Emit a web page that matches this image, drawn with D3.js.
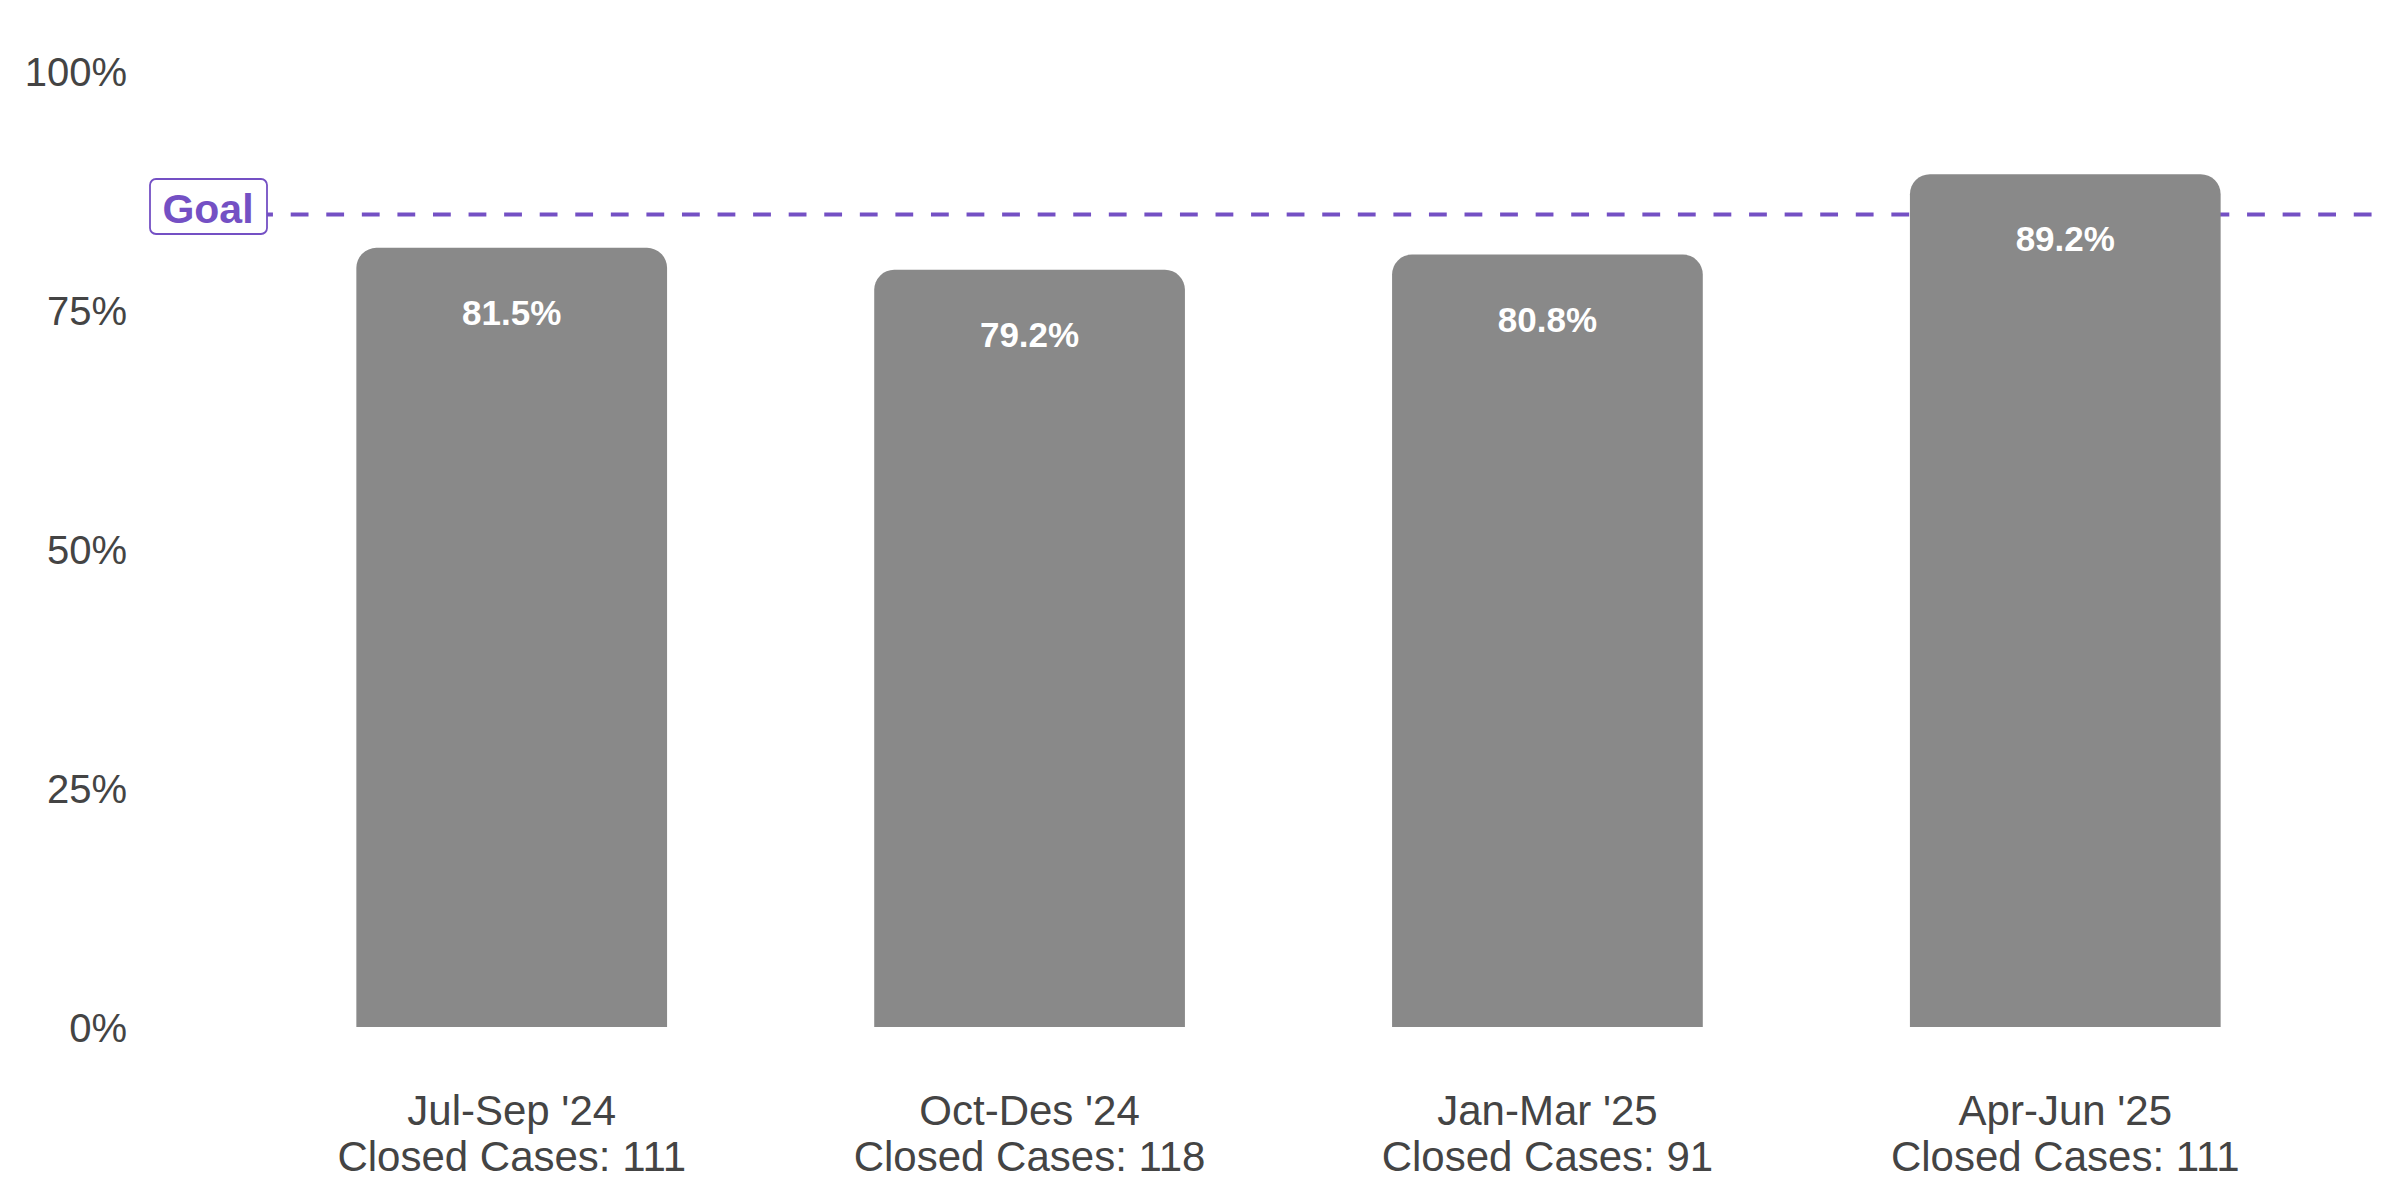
<!DOCTYPE html>
<html>
<head>
<meta charset="utf-8">
<script src="https://cdn.jsdelivr.net/npm/d3@7"></script>
<style>
  html, body { margin: 0; padding: 0; background: #ffffff; }
  svg { display: block; }
  text { font-family: "Liberation Sans", Arial, Helvetica, sans-serif; }
</style>
</head>
<body>
<svg id="chart" width="2400" height="1200"></svg>
<script>
// ---- data ----
const quarters = ["Jul-Sep '24", "Oct-Des '24", "Jan-Mar '25", "Apr-Jun '25"];
const closedCases = [111, 118, 91, 111];
const rates = [0.815, 0.792, 0.808, 0.892];
const rateLabels = ["81.5%", "79.2%", "80.8%", "89.2%"];
const goal = 0.85;
const goalLabel = "Goal";
const yTicks = [0, 0.25, 0.5, 0.75, 1];
const yTickLabels = ["0%", "25%", "50%", "75%", "100%"];

// ---- layout ----
const panel = { left: 201, right: 2376, top: 71, bottom: 1027 };
const barColor = "#898989";
const purple = "#7450c4";
const textColor = "#444444";

const svg = d3.select("#chart");

const x = d3.scaleBand()
  .domain(quarters)
  .range([panel.left, panel.right])
  .paddingInner(0.4)
  .paddingOuter(0.3);

const y = d3.scaleLinear().domain([0, 1]).range([panel.bottom, panel.top]);

// y axis labels
const yAxis = d3.axisLeft(y)
  .tickValues(yTicks)
  .tickFormat((d, i) => yTickLabels[i])
  .tickSize(0)
  .tickPadding(0);
const yg = svg.append("g")
  .attr("transform", `translate(127,0)`)
  .call(yAxis);
yg.select(".domain").remove();
yg.selectAll("text")
  .attr("fill", textColor)
  .attr("font-size", 40)
  .attr("dy", "0.35em")
  .style("font-family", '"Liberation Sans", Arial, sans-serif');

// goal line (drawn beneath bars)
svg.append("line")
  .attr("x1", panel.left - 17)
  .attr("x2", 2373)
  .attr("y1", y(goal))
  .attr("y2", y(goal))
  .attr("stroke", purple)
  .attr("stroke-width", 4)
  .attr("stroke-dasharray", "17.8,17.77");

// bars with rounded top corners
const r = 20;
function topRoundedBar(x0, y0, w, h) {
  const rr = Math.min(r, h, w / 2);
  return `M${x0},${y0 + h}` +
    `V${y0 + rr}` +
    `A${rr},${rr} 0 0 1 ${x0 + rr},${y0}` +
    `H${x0 + w - rr}` +
    `A${rr},${rr} 0 0 1 ${x0 + w},${y0 + rr}` +
    `V${y0 + h}Z`;
}

const data = quarters.map((q, i) => ({ q, v: rates[i], lab: rateLabels[i], n: closedCases[i] }));

svg.append("g").selectAll("path.bar")
  .data(data)
  .join("path")
  .attr("class", "bar")
  .attr("fill", barColor)
  .attr("d", d => topRoundedBar(x(d.q), y(d.v), x.bandwidth(), y(0) - y(d.v)));

// value labels
svg.append("g").selectAll("text.val")
  .data(data)
  .join("text")
  .attr("class", "val")
  .attr("x", d => x(d.q) + x.bandwidth() / 2)
  .attr("y", d => y(d.v) + 77)
  .attr("text-anchor", "middle")
  .attr("fill", "#ffffff")
  .attr("font-weight", "bold")
  .attr("font-size", 35)
  .text(d => d.lab);

// goal label box
const gx = 208, gy = y(goal) - 6;
const gLabel = svg.append("g");
gLabel.append("rect")
  .attr("x", 150).attr("y", 179)
  .attr("width", 117).attr("height", 55)
  .attr("rx", 6).attr("ry", 6)
  .attr("fill", "#ffffff")
  .attr("stroke", purple)
  .attr("stroke-width", 1.8);
gLabel.append("text")
  .attr("x", gx)
  .attr("y", gy)
  .attr("dy", "0.36em")
  .attr("text-anchor", "middle")
  .attr("fill", purple)
  .attr("font-weight", "bold")
  .attr("font-size", 41)
  .text(goalLabel);

// x labels
const xl = svg.append("g").selectAll("text.xl")
  .data(data)
  .join("text")
  .attr("class", "xl")
  .attr("text-anchor", "middle")
  .attr("fill", textColor)
  .attr("font-size", 42);
xl.append("tspan")
  .attr("x", d => x(d.q) + x.bandwidth() / 2)
  .attr("y", 1125)
  .text(d => d.q);
xl.append("tspan")
  .attr("x", d => x(d.q) + x.bandwidth() / 2)
  .attr("y", 1171)
  .text(d => `Closed Cases: ${d.n}`);
</script>
</body>
</html>
